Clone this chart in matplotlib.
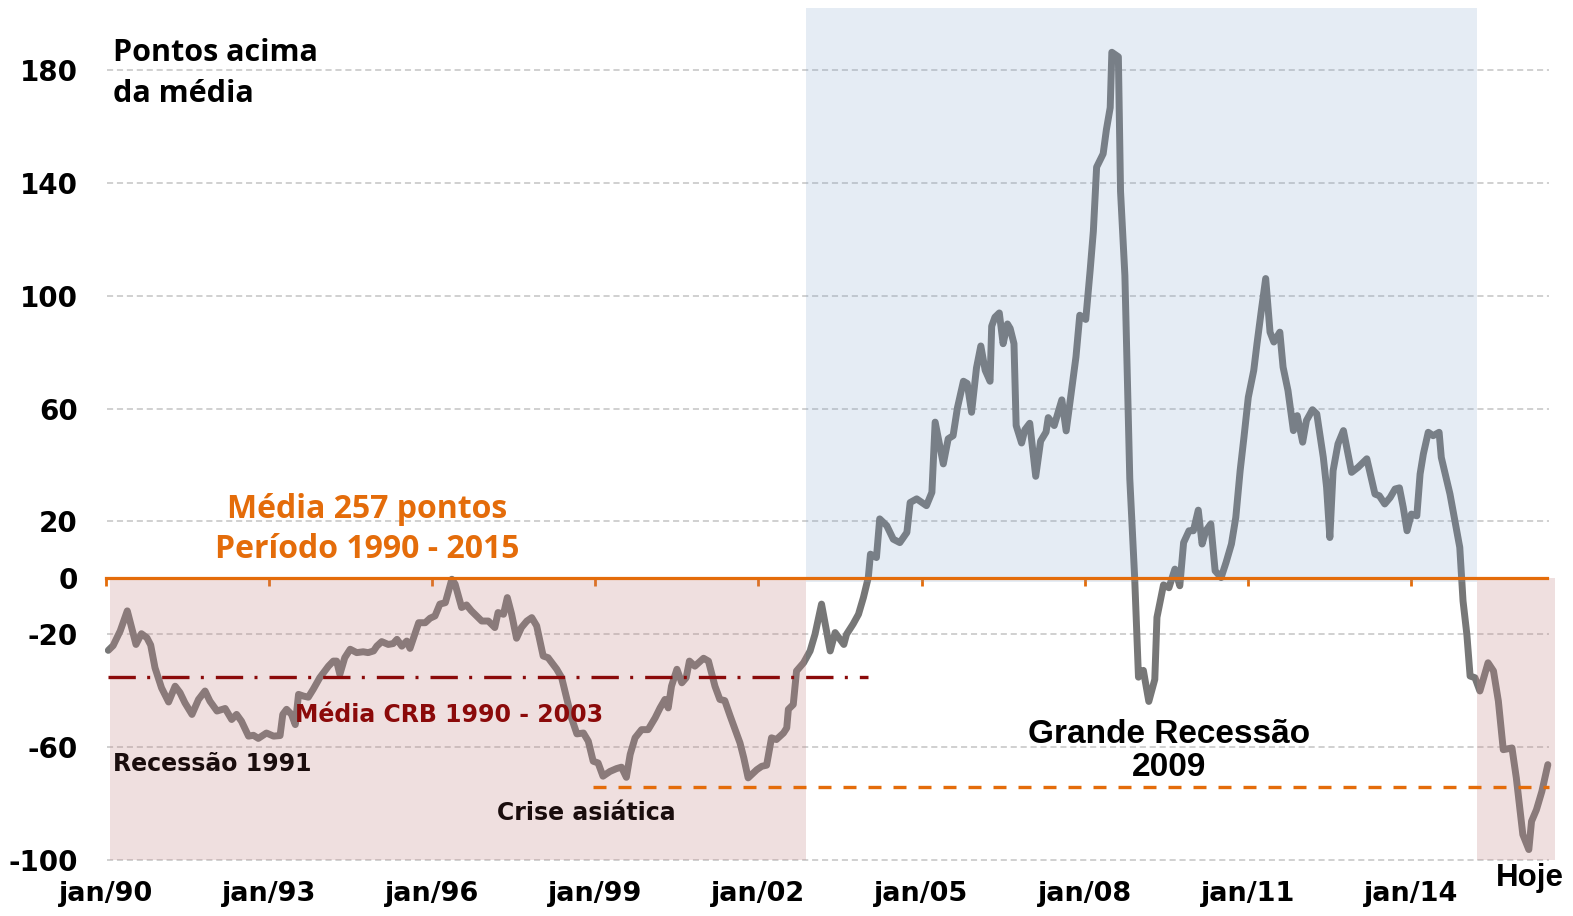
import matplotlib
matplotlib.use('Agg')
import matplotlib.pyplot as plt

# CRB, pontos acima/abaixo da media 1990-2015
years = [
    1990.04, 1990.13, 1990.26, 1990.39, 1990.55, 1990.65, 1990.75, 1990.82, 1990.90,
    1991.02, 1991.15, 1991.27, 1991.36, 1991.45, 1991.58, 1991.70, 1991.82, 1991.91,
    1992.04, 1992.19, 1992.31, 1992.40, 1992.49, 1992.62, 1992.71, 1992.80, 1992.95,
    1993.08, 1993.20, 1993.25, 1993.32, 1993.41, 1993.48, 1993.54, 1993.63, 1993.72,
    1993.81, 1993.93, 1994.09, 1994.18, 1994.24, 1994.30, 1994.39, 1994.49, 1994.61,
    1994.73, 1994.82, 1994.92, 1994.98, 1995.07, 1995.19, 1995.28, 1995.35, 1995.44,
    1995.53, 1995.59, 1995.75, 1995.87, 1995.96, 1996.05, 1996.14, 1996.24, 1996.36,
    1996.42, 1996.54, 1996.63, 1996.72, 1996.91, 1997.03, 1997.15, 1997.21, 1997.31,
    1997.38, 1997.46, 1997.55, 1997.64, 1997.74, 1997.83, 1997.92, 1998.04, 1998.13,
    1998.29, 1998.38, 1998.47, 1998.56, 1998.66, 1998.78, 1998.87, 1998.96, 1999.05,
    1999.14, 1999.27, 1999.39, 1999.48, 1999.57, 1999.64, 1999.73, 1999.85, 1999.97,
    2000.10, 2000.19, 2000.28, 2000.34, 2000.40, 2000.50, 2000.59, 2000.67, 2000.73,
    2000.83, 2000.99, 2001.08, 2001.20, 2001.29, 2001.38, 2001.48, 2001.66, 2001.73,
    2001.81, 2001.97, 2002.06, 2002.15, 2002.24, 2002.33, 2002.46, 2002.52, 2002.55,
    2002.64, 2002.70, 2002.83, 2002.95, 2003.04, 2003.16, 2003.32, 2003.41, 2003.57,
    2003.62, 2003.74, 2003.84, 2003.93, 2004.02, 2004.06, 2004.17, 2004.23, 2004.36,
    2004.48, 2004.60, 2004.73, 2004.79, 2004.91, 2005.09, 2005.19, 2005.25, 2005.40,
    2005.49, 2005.58, 2005.66, 2005.77, 2005.84, 2005.92, 2006.01, 2006.09, 2006.17,
    2006.26, 2006.29, 2006.35, 2006.43, 2006.50, 2006.58, 2006.63, 2006.70, 2006.74,
    2006.84, 2006.90, 2006.99, 2007.10, 2007.19, 2007.29, 2007.33, 2007.44, 2007.58,
    2007.66, 2007.76, 2007.84, 2007.91, 2008.02, 2008.10, 2008.16, 2008.22, 2008.34,
    2008.40, 2008.47, 2008.50, 2008.62, 2008.66, 2008.74, 2008.83, 2008.92, 2008.99,
    2009.08, 2009.18, 2009.29, 2009.33, 2009.45, 2009.55, 2009.66, 2009.75, 2009.82,
    2009.92, 2010.00, 2010.09, 2010.16, 2010.23, 2010.32, 2010.40, 2010.51, 2010.60,
    2010.70, 2010.78, 2010.86, 2010.93, 2011.01, 2011.11, 2011.17, 2011.25, 2011.33,
    2011.41, 2011.48, 2011.59, 2011.65, 2011.74, 2011.84, 2011.91, 2012.01, 2012.08,
    2012.19, 2012.27, 2012.39, 2012.45, 2012.51, 2012.57, 2012.66, 2012.76, 2012.91,
    2013.03, 2013.19, 2013.34, 2013.42, 2013.52, 2013.62, 2013.71, 2013.79, 2013.86,
    2013.93, 2014.01, 2014.11, 2014.17, 2014.23, 2014.32, 2014.41, 2014.52, 2014.56,
    2014.72, 2014.81, 2014.90, 2014.96, 2015.03, 2015.09, 2015.18, 2015.27, 2015.42,
    2015.52, 2015.61, 2015.70, 2015.86, 2015.94, 2016.06, 2016.17, 2016.22, 2016.31,
    2016.41, 2016.52,
]
values = [
    -25.7, -24.0, -18.8, -11.7, -23.6, -19.8, -21.2, -23.8, -31.9,
    -39.0, -44.0, -38.4, -40.7, -44.3, -48.4, -43.1, -40.1, -43.7,
    -47.2, -46.3, -50.2, -48.4, -50.8, -56.1, -55.8, -56.9, -55.0,
    -56.1, -55.9, -48.4, -46.6, -48.4, -52.0, -41.3, -41.9, -42.3,
    -39.5, -35.4, -31.3, -29.5, -29.5, -34.2, -28.3, -25.3, -26.5,
    -26.2, -26.5, -25.9, -24.2, -22.6, -23.6, -23.3, -21.8, -24.2,
    -22.4, -25.0, -15.9, -15.9, -14.3, -13.5, -9.3, -8.8, -0.5,
    -2.2, -10.5, -9.6, -11.7, -15.3, -15.3, -17.6, -12.3, -12.9,
    -7.0, -12.9, -21.4, -17.6, -15.3, -14.1, -17.0, -27.7, -28.3,
    -32.4, -35.4, -42.5, -49.6, -55.3, -55.0, -57.9, -65.0, -65.6,
    -70.3, -68.6, -67.6, -67.1, -70.7, -62.6, -56.7, -53.8, -53.8,
    -49.6, -46.1, -43.1, -46.1, -38.4, -32.4, -37.2, -35.4, -29.5,
    -31.3, -28.5, -29.5, -38.4, -43.1, -43.5, -49.0, -58.5, -63.8,
    -70.9, -68.0, -66.8, -66.4, -56.7, -57.3, -55.0, -53.2, -46.6,
    -44.9, -33.0, -30.1, -25.9, -20.0, -9.3, -25.9, -19.4, -23.6,
    -20.0, -16.4, -12.9, -7.0, 0.1, 8.4, 7.2, 20.9, 18.5,
    13.7, 12.5, 16.1, 26.7, 28.0, 25.6, 30.3, 55.2, 40.4,
    49.3, 50.4, 60.3, 69.7, 68.9, 58.7, 74.4, 82.2, 73.6,
    69.7, 89.2, 92.4, 93.9, 83.0, 90.0, 88.4, 83.0, 54.0,
    47.8, 52.5, 54.8, 36.0, 48.5, 51.7, 56.8, 54.0, 63.1,
    52.1, 66.5, 78.3, 93.1, 91.6, 108.8, 122.9, 145.6, 150.3,
    158.9, 166.7, 186.3, 184.7, 137.0, 107.2, 35.2, 0.0, -35.2,
    -32.8, -43.8, -36.0, -14.0, -2.5, -3.5, 3.1, -2.8, 12.5,
    16.7, 16.7, 24.0, 12.0, 16.7, 19.1, 2.5, 0.1, 5.4,
    12.0, 21.4, 38.0, 49.8, 64.0, 73.5, 83.0, 94.8, 106.1,
    87.1, 83.6, 87.1, 74.7, 66.4, 52.2, 57.5, 48.1, 55.8,
    59.6, 58.1, 42.7, 32.1, 14.3, 38.0, 47.5, 52.2, 37.4,
    39.2, 42.2, 29.7, 29.1, 26.2, 28.5, 31.5, 31.9, 25.0,
    16.7, 22.6, 22.0, 36.8, 43.9, 51.6, 50.4, 51.6, 42.7,
    29.7, 20.2, 10.8, -8.2, -20.0, -34.8, -35.4, -40.1, -30.1,
    -33.0, -43.7, -60.9, -60.3, -70.9, -91.0, -96.3, -86.3, -82.2,
    -75.7, -66.2,
]

tick_years = [1990, 1993, 1996, 1999, 2002, 2005, 2008, 2011, 2014]
tick_labels = ['jan/90', 'jan/93', 'jan/96', 'jan/99', 'jan/02',
               'jan/05', 'jan/08', 'jan/11', 'jan/14']
y_ticks = [-100, -60, -20, 0, 20, 60, 100, 140, 180]
grid_levels = [-100, -60, -20, 20, 60, 100, 140, 180]

media_crb = -35.2                  # media CRB 1990-2003
crb_span = (1990.04, 2004.02)
piso = -74.0                       # linha laranja tracejada
piso_span = (1998.96, 2016.55)

low_periods = [(1990.07, 2002.87), (2015.22, 2016.65)]
high_period = (2002.87, 2015.22)

ORANGE = '#e46c0a'
DARKRED = '#8b0a0a'

plt.rcParams['font.family'] = 'DejaVu Sans'
plt.rcParams['font.weight'] = 'bold'
plt.rcParams['axes.unicode_minus'] = False

fig = plt.figure(figsize=(15.73, 9.16), dpi=100)
ax = fig.add_axes([105 / 1573, (916 - 862.8) / 916, 1451 / 1573, 854.8 / 916])
ax.set_xlim(1989.98, 2016.67)
ax.set_ylim(-101, 202)

ax.hlines(grid_levels, 1990.02, 2016.55, colors='#c3c3c3', linewidth=1.1,
          linestyles=(0, (4, 2.5)), zorder=1)

ax.plot(years, values, color='#777777', lw=5.0, solid_joinstyle='round',
        solid_capstyle='round', zorder=2)

# shaded periods (drawn on top with alpha so the line gets tinted)
for x0, x1 in low_periods:
    ax.fill_between([x0, x1], -100, 0, color=(195 / 255, 131 / 255, 131 / 255),
                    alpha=0.25, lw=0, zorder=3)
ax.fill_between(list(high_period), -1.5, 202, color=(125 / 255, 160 / 255, 200 / 255),
                alpha=0.2, lw=0, zorder=3)

ax.plot(crb_span, [media_crb, media_crb], color=DARKRED, lw=2.4,
        linestyle=(0, (8.2, 3.4, 0.9, 3.6)), zorder=4)
ax.plot(piso_span, [piso, piso], color=ORANGE, lw=2.4,
        linestyle=(0, (3.9, 3.6)), zorder=4)

# zero line with ticks
for side in ['top', 'right', 'left']:
    ax.spines[side].set_visible(False)
ax.spines['bottom'].set_position(('data', 0))
ax.spines['bottom'].set_color(ORANGE)
ax.spines['bottom'].set_linewidth(2.3)
ax.spines['bottom'].set_bounds(1989.99, 2016.5)
ax.spines['bottom'].set_zorder(4)
ax.set_xticks(tick_years)
ax.tick_params(axis='x', direction='out', length=6, width=2, color=ORANGE,
               labelbottom=False)

ax.set_yticks(y_ticks)
ax.tick_params(axis='y', length=0, pad=19.5, labelsize=20)

sec = ax.secondary_xaxis('bottom')
sec.set_xticks(tick_years, labels=tick_labels)
sec.tick_params(length=0, pad=13, labelsize=19.5)
sec.spines['bottom'].set_visible(False)

# annotations
ax.text(1990.13, 183.3, 'Pontos acima', family='Open Sans', weight='bold',
        fontsize=22, color='black', zorder=5)
ax.text(1990.13, 168.8, 'da média', family='Open Sans', weight='bold',
        fontsize=22, color='black', zorder=5)
ax.text(1994.80, 21.3, 'Média 257 pontos', family='Open Sans', weight='bold',
        fontsize=23, color=ORANGE, ha='center', zorder=5)
ax.text(1994.80, 7.1, 'Período 1990 - 2015', family='Open Sans', weight='bold',
        fontsize=23, color=ORANGE, ha='center', zorder=5)
ax.text(1993.48, -51.0, 'Média CRB 1990 - 2003', fontsize=17, color=DARKRED,
        zorder=5)
ax.text(1990.13, -68.6, 'Recessão 1991', fontsize=17, color='#1a0d0d', zorder=5)
ax.text(1997.19, -85.7, 'Crise asiática', fontsize=17, color='#1a0d0d', zorder=5)
ax.text(2009.55, -58.5, 'Grande Recessão', family='Liberation Sans', fontsize=24,
        color='black', ha='center', zorder=5)
ax.text(2009.55, -70.3, '2009', family='Liberation Sans', fontsize=24,
        color='black', ha='center', zorder=5)
ax.text(2016.19, -109.4, 'Hoje', family='Liberation Sans', fontsize=22.5,
        color='black', ha='center', zorder=5, clip_on=False)

fig.savefig('out.png', dpi=100)
